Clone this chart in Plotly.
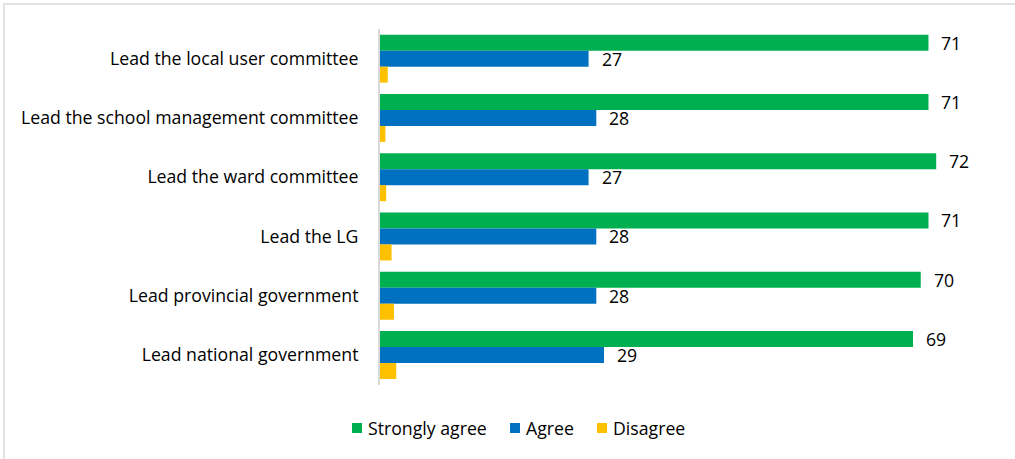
import plotly.graph_objects as go

# Leadership roles (top to bottom)
roles = [
    "Lead the local user committee",
    "Lead the school management committee",
    "Lead the ward committee",
    "Lead the LG",
    "Lead provincial government",
    "Lead national government",
]

# Responses in percent
strongly_agree = [71, 71, 72, 71, 70, 69]
agree = [27, 28, 27, 28, 28, 29]
disagree = [1.0, 0.7, 0.8, 1.5, 1.8, 2.1]

series = [
    ("Strongly agree", strongly_agree, "#00B050"),
    ("Agree", agree, "#0070C0"),
    ("Disagree", disagree, "#FFC000"),
]

FONT = "Open Sans"
FSIZE = 17.7
W, H = 1015, 459
ML, MR, MT, MB = 380, 17, 29, 74

fig = go.Figure()
for name, vals, color in series:
    fig.add_trace(go.Bar(
        y=roles, x=vals, name=name, orientation="h",
        marker=dict(color=color, line=dict(width=0)),
    ))

# Value labels for the two larger series, placed just past each bar end
plot_h = H - MT - MB
plot_w = W - ML - MR
band = plot_h / len(roles)
bar_px = band * (1 - 0.19) / 3
for shift, vals in ((bar_px, strongly_agree), (0, agree)):
    for role, v in zip(roles, vals):
        fig.add_annotation(
            x=v, y=role, text=str(v), showarrow=False,
            xanchor="left", yanchor="middle", xshift=11, yshift=shift,
            font=dict(family=FONT, size=FSIZE, color="#000000"),
        )

# Legend drawn below the bars: small square swatch followed by its label
legend_y = 428
swatch_x = [352, 510, 597]
for (name, _, color), sx in zip(series, swatch_x):
    fig.add_shape(
        type="rect", xref="paper", yref="paper",
        x0=(sx - ML) / plot_w, x1=(sx + 10 - ML) / plot_w,
        y0=(H - MB - legend_y - 5) / plot_h, y1=(H - MB - legend_y + 5) / plot_h,
        fillcolor=color, line=dict(width=0),
    )
    fig.add_annotation(
        xref="paper", yref="paper",
        x=(sx + 14 - ML) / plot_w, y=(H - MB - legend_y) / plot_h,
        text=name, showarrow=False, xanchor="left", yanchor="middle",
        font=dict(family=FONT, size=FSIZE, color="#000000"),
    )

# Light frame around the chart area
fig.add_shape(
    type="rect", xref="paper", yref="paper",
    x0=(4 - ML) / plot_w, x1=(W + 20 - ML) / plot_w,
    y0=-(MB + 20) / plot_h, y1=(H - MB - 4) / plot_h,
    line=dict(color="#D9D9D9", width=1.5), fillcolor="rgba(0,0,0,0)",
    layer="below",
)

fig.update_layout(
    width=W, height=H,
    margin=dict(l=ML, r=MR, t=MT, b=MB),
    barmode="group", bargap=0.19, bargroupgap=0,
    plot_bgcolor="white", paper_bgcolor="white",
    font=dict(family=FONT, size=FSIZE, color="#000000"),
    showlegend=False,
    xaxis=dict(
        range=[0, 80], visible=False, showgrid=False, zeroline=False,
    ),
    yaxis=dict(
        categoryorder="array", categoryarray=roles, autorange="reversed",
        showline=True, linecolor="#D9D9D9", linewidth=2,
        showgrid=False, zeroline=False, ticks="", ticklabelstandoff=16,
        tickfont=dict(family=FONT, size=FSIZE, color="#000000"),
    ),
)

fig.write_html("out.html")
